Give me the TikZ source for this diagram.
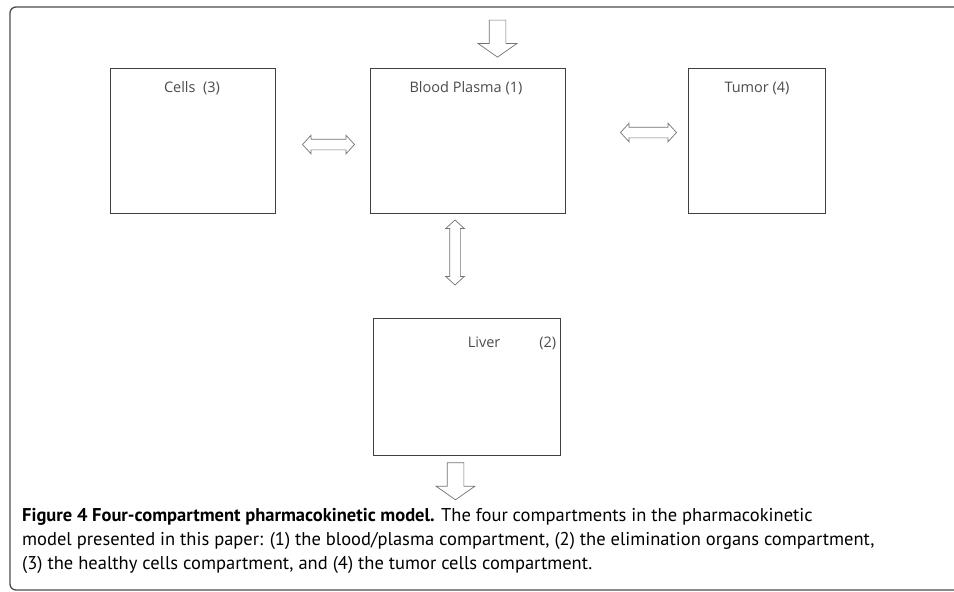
\documentclass[tikz,border=0pt]{standalone}
\usepackage{fontspec}
\setmainfont{PT Sans}
\newfontfamily\labelfont{Open Sans}
\usetikzlibrary{calc}
\usetikzlibrary{positioning}
\usetikzlibrary{shapes.arrows}

\begin{document}
\begin{tikzpicture}[x=1pt, y=-1pt,
  compbox/.style={draw=black!75, line width=0.9pt, fill=white, inner sep=0pt},
  boxlabel/.style={font=\labelfont\fontsize{14.5}{17}\selectfont, text=black!70, inner sep=0pt},
  flowarrow/.style={single arrow, draw=black!55, line width=0.7pt, fill=white, inner sep=8pt,
    single arrow head extend=11pt, single arrow tip angle=110, minimum height=37pt, shape border rotate=270},
  swaparrow/.style={double arrow, draw=black!55, line width=0.7pt, fill=white, inner sep=5pt,
    double arrow head extend=4pt, double arrow tip angle=95, minimum height=52pt}]

\useasboundingbox (0,0) rectangle (954,592);

% Outer frame
\draw[rounded corners=6pt, black!70, line width=1.3pt] (954,7) -- (10,7) -- (10,590) -- (954,590);

% Compartments
\node[compbox, minimum width=165pt, minimum height=145pt] (cells) at (192.5,140.5) {};
\node[boxlabel] (cellstext) at (192,88) {Cells\ \ (3)};

\node[compbox, minimum width=195pt, minimum height=145pt] (plasma) at (467.5,140.5) {};
\node[boxlabel] (plasmatext) at (466,88) {Blood Plasma (1)};

\node[compbox, minimum width=137pt, minimum height=145pt] (tumor) at (756.5,140.5) {};
\node[boxlabel] (tumortext) at (757,88) {Tumor (4)};

\node[compbox, minimum width=187pt, minimum height=137pt] (liver) at (466.5,386.5) {};
\node[boxlabel] (livertext) at (512,343) {Liver\hspace{39pt}(2)};

% Block arrows
\node[flowarrow, anchor=tip] (dose) at ([xshift=30pt, yshift=10pt]plasma.north) {};
\node[swaparrow, xshift=6pt, yshift=-4pt] (cellsplasma) at ($(cells.east)!0.5!(plasma.west)$) {};
\node[swaparrow, xshift=22pt, yshift=8pt, minimum height=56pt] (plasmatumor) at ($(plasma.east)!0.5!(tumor.west)$) {};
\node[swaparrow, rotate=90, xshift=13pt, yshift=12pt, minimum height=65pt] (plasmaliver) at ($(plasma.south)!0.5!(liver.north)$) {};
\node[flowarrow, anchor=tail] (elimination) at ([xshift=-11pt, yshift=-7pt]liver.south) {};

% Caption
\node[anchor=north west, align=left, font=\fontsize{18.5}{24}\selectfont, inner sep=0pt] (caption) at (22,508)
  {\textbf{Figure 4 Four-compartment pharmacokinetic model.} The four compartments in the pharmacokinetic\\
   model presented in this paper: (1) the blood/plasma compartment, (2) the elimination organs compartment,\\
   (3) the healthy cells compartment, and (4) the tumor cells compartment.};

\end{tikzpicture}
\end{document}
